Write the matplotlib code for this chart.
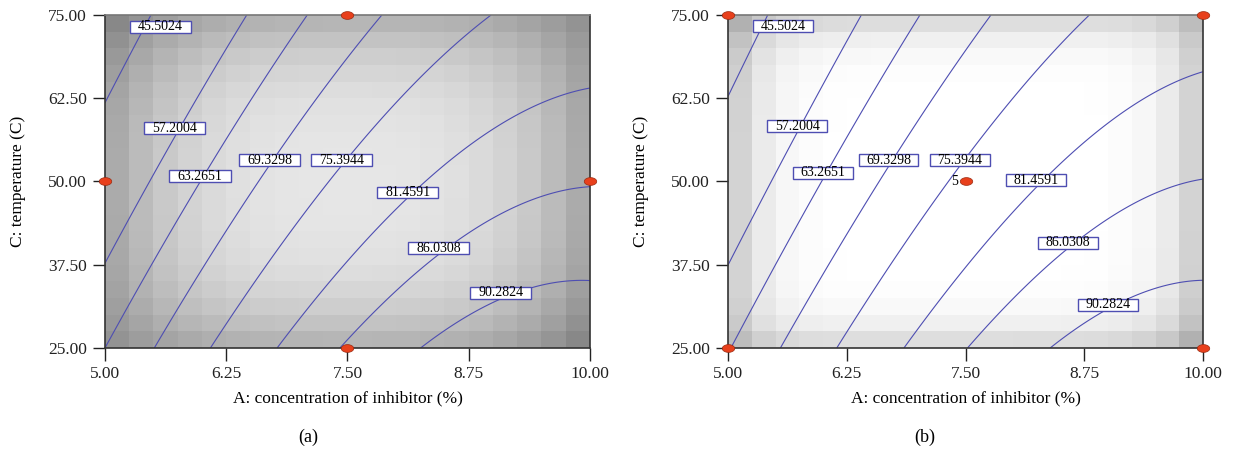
import numpy as np
import matplotlib
matplotlib.use('Agg')
import matplotlib.pyplot as plt
from matplotlib.path import Path
from matplotlib.patches import Rectangle

plt.rcParams['font.family'] = ['Liberation Serif', 'DejaVu Serif']

# quadratic model in coded units: b0, A, C, AC, A^2, C^2
coef_a = [76.769, 17.259, -9.891, 2.255, -8.235, -0.153]
coef_b = [76.688, 17.354, -9.293, 2.254, -7.909, -0.075]

levels = [45.5024, 57.2004, 63.2651, 69.3298, 75.3944, 81.4591, 86.0308, 90.2824]
level_labels = ['45.5024', '57.2004', '63.2651', '69.3298', '75.3944', '81.4591', '86.0308', '90.2824']

# where each contour label box sits (A, C)
label_pos_a = [(5.57, 73.2), (5.72, 58.0), (5.98, 50.8), (6.70, 53.2),
               (7.44, 53.2), (8.12, 48.35), (8.44, 40.0), (9.08, 33.3)]
label_pos_b = [(5.58, 73.3), (5.73, 58.3), (6.00, 51.3), (6.69, 53.2),
               (7.44, 53.2), (8.24, 50.2), (8.58, 40.8), (9.00, 31.5)]

# design points
design_a_A = [7.5, 5.0, 10.0, 7.5]
design_a_C = [75, 50, 50, 25]
design_b_A = [5.0, 10.0, 5.0, 10.0, 7.5]
design_b_C = [75, 75, 25, 25, 50]

# grey shading: base, A edge weight, C edge weight, corner relief, diagonal tilt, exponent
shade_a = [0.90, 0.27, 0.22, 0.10, 0.03, 3]
shade_b = [1.00, 0.25, 0.19, 0.05, 0.03, 7]

xticks = [5.00, 6.25, 7.50, 8.75, 10.00]
yticks = [25.00, 37.50, 50.00, 62.50, 75.00]

line_col = '#4e4eb2'

# flattened ellipse marker for the design-point dots
t = np.linspace(0, 2 * np.pi, 40)
dot = Path(np.column_stack([np.cos(t), 0.62 * np.sin(t)]), closed=True)


def model(coef, A, C):
    a = (A - 7.5) / 2.5
    c = (C - 50) / 25
    return (coef[0] + coef[1] * a + coef[2] * c + coef[3] * a * c
            + coef[4] * a**2 + coef[5] * c**2)


def shading(s, A, C):
    a = (A - 7.5) / 2.5
    c = (C - 50) / 25
    n = s[5]
    v = (s[0] - s[1] * np.abs(a)**n - s[2] * np.abs(c)**n
         + s[3] * np.abs(a * c)**n + s[4] * (a * c)**3)
    return np.clip(v, 0, 1)


fig = plt.figure(figsize=(12.35, 4.51), dpi=100)
ax1 = fig.add_axes([0.085, 0.2284, 0.3927, 0.7384])
ax2 = fig.add_axes([0.5895, 0.2284, 0.3846, 0.7384])

panels = [
    (ax1, coef_a, shade_a, label_pos_a, design_a_A, design_a_C, '(a)', 0.2494),
    (ax2, coef_b, shade_b, label_pos_b, design_b_A, design_b_C, '(b)', 0.749),
]

for ax, coef, shade, lpos, dA, dC, tag, tag_x in panels:
    # blocky background, 20 x 20 cells
    xe = np.linspace(5, 10, 21)
    ye = np.linspace(25, 75, 21)
    xc = (xe[:-1] + xe[1:]) / 2
    yc = (ye[:-1] + ye[1:]) / 2
    XC, YC = np.meshgrid(xc, yc)
    ax.pcolormesh(xe, ye, shading(shade, XC, YC), cmap='gray', vmin=0, vmax=1,
                  shading='flat', zorder=0)

    xf = np.linspace(5, 10, 300)
    yf = np.linspace(25, 75, 300)
    XF, YF = np.meshgrid(xf, yf)
    ax.contour(XF, YF, model(coef, XF, YF), levels=levels, colors=line_col,
               linewidths=0.8, zorder=2)

    w = 0.63
    h = 1.75
    for (lx, ly), txt in zip(lpos, level_labels):
        ax.add_patch(Rectangle((lx - w / 2, ly - h / 2), w, h, facecolor='white',
                               edgecolor=line_col, linewidth=1.0, zorder=3))
        ax.text(lx, ly, txt, ha='center', va='center', fontsize=10, zorder=4)

    ax.plot(dA, dC, linestyle='none', marker=dot, markersize=9,
            markerfacecolor='#e8401c', markeredgecolor='#9a2a10',
            markeredgewidth=0.5, clip_on=False, zorder=5)

    ax.set_xlim(5, 10)
    ax.set_ylim(25, 75)
    ax.set_xticks(xticks)
    ax.set_yticks(yticks)
    ax.set_xticklabels([f'{v:.2f}' for v in xticks])
    ax.set_yticklabels([f'{v:.2f}' for v in yticks])
    ax.tick_params(direction='out', length=9, width=1, pad=4, labelsize=12.5,
                   colors='#222222')
    for sp in ax.spines.values():
        sp.set_color('#333333')
        sp.set_linewidth(1.2)
    ax.spines['top'].set_color('#777777')
    ax.set_xlabel('A: concentration of inhibitor (%)', fontsize=12.5, labelpad=6)
    ax.set_ylabel('C: temperature (C)', fontsize=12.5, labelpad=16)
    fig.text(tag_x, 0.03, tag, ha='center', va='center', fontsize=13)

ax2.text(7.42, 50, '5', ha='right', va='center', fontsize=10, zorder=5)

fig.savefig('out.png')
